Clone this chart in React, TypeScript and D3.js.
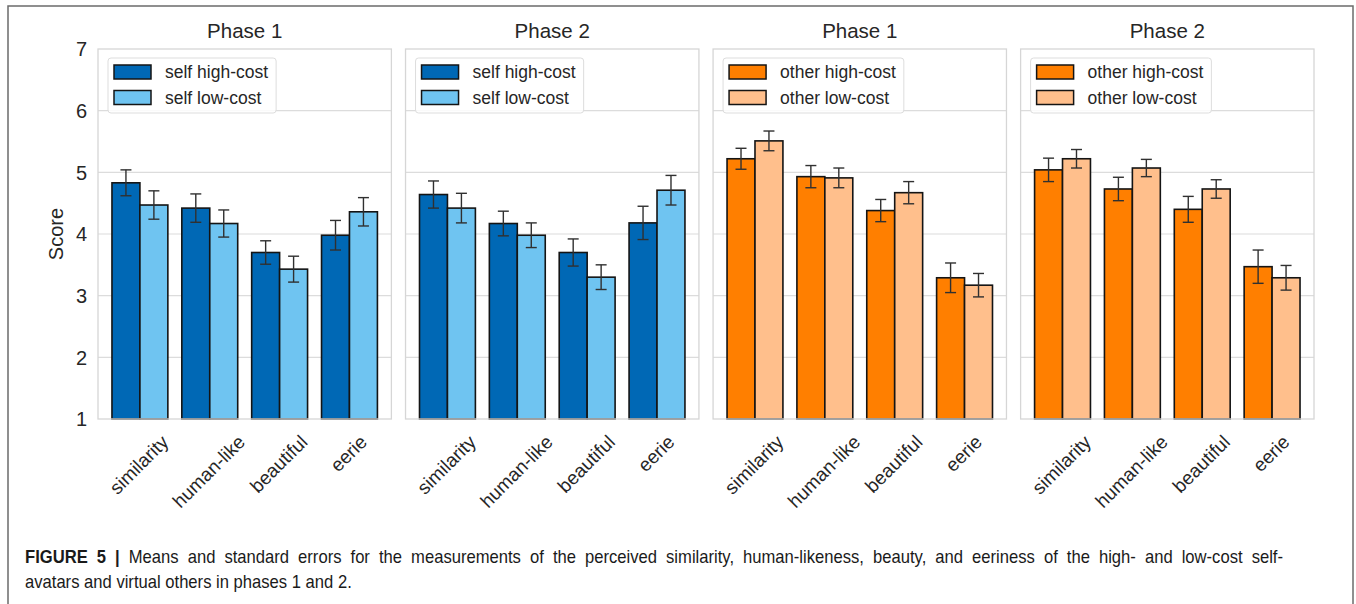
import React, { useEffect, useRef } from "react";
import * as d3 from "d3";

const categories = ["similarity", "human-like", "beautiful", "eerie"];
const panelTitles = ["Phase 1", "Phase 2", "Phase 1", "Phase 2"];
const yTicks = [1, 2, 3, 4, 5, 6, 7];

// means and standard errors per panel
const selfP1High = [4.83, 4.42, 3.7, 3.98];
const selfP1HighSe = [0.21, 0.23, 0.19, 0.24];
const selfP1Low = [4.47, 4.17, 3.43, 4.36];
const selfP1LowSe = [0.23, 0.22, 0.21, 0.23];
const selfP2High = [4.64, 4.17, 3.7, 4.18];
const selfP2HighSe = [0.22, 0.2, 0.22, 0.27];
const selfP2Low = [4.42, 3.98, 3.3, 4.71];
const selfP2LowSe = [0.24, 0.2, 0.2, 0.24];
const otherP1High = [5.22, 4.93, 4.38, 3.29];
const otherP1HighSe = [0.17, 0.18, 0.18, 0.24];
const otherP1Low = [5.51, 4.91, 4.67, 3.17];
const otherP1LowSe = [0.16, 0.16, 0.18, 0.19];
const otherP2High = [5.04, 4.73, 4.4, 3.47];
const otherP2HighSe = [0.19, 0.19, 0.21, 0.27];
const otherP2Low = [5.22, 5.07, 4.73, 3.29];
const otherP2LowSe = [0.15, 0.14, 0.15, 0.2];

const selfLabels = ["self high-cost", "self low-cost"];
const otherLabels = ["other high-cost", "other low-cost"];
const selfColors = ["#0068b5", "#6fc4f1"];
const otherColors = ["#ff7f00", "#ffbf8c"];

const captionBold = "FIGURE 5 |";
const captionLine1 =
  " Means and standard errors for the measurements of the perceived similarity, human-likeness, beauty, and eeriness of the high- and low-cost self-";
const captionLine2 = "avatars and virtual others in phases 1 and 2.";

const FONT = "'Liberation Sans', Arial, Helvetica, sans-serif";
const TXT = "#262626";

export default function App() {
  const ref = useRef<SVGSVGElement>(null);

  useEffect(() => {
    if (!ref.current) return;
    const svg = d3.select(ref.current);
    svg.selectAll("*").remove();

    const panels = [
      { means: [selfP1High, selfP1Low], ses: [selfP1HighSe, selfP1LowSe], labels: selfLabels, colors: selfColors },
      { means: [selfP2High, selfP2Low], ses: [selfP2HighSe, selfP2LowSe], labels: selfLabels, colors: selfColors },
      { means: [otherP1High, otherP1Low], ses: [otherP1HighSe, otherP1LowSe], labels: otherLabels, colors: otherColors },
      { means: [otherP2High, otherP2Low], ses: [otherP2HighSe, otherP2LowSe], labels: otherLabels, colors: otherColors },
    ];

    // outer figure frame
    svg
      .append("rect")
      .attr("x", 8)
      .attr("y", 6)
      .attr("width", 1345)
      .attr("height", 640)
      .attr("fill", "white")
      .attr("stroke", "#6b6b6b")
      .attr("stroke-width", 1.5);

    const top = 49;
    const bottom = 419;
    const y = d3.scaleLinear().domain([1, 7]).range([bottom, top]);
    const px = d3
      .scaleBand<number>()
      .domain(d3.range(4))
      .range([98, 1314])
      .paddingInner(0.046)
      .paddingOuter(0);
    const bw = px.bandwidth();
    const x = d3.scaleLinear().domain([-0.6, 3.6]).range([0, bw]);
    const barW = x(0.4) - x(0);

    panels.forEach((p, pi) => {
      const g = svg.append("g").attr("transform", `translate(${px(pi)},0)`);

      // gridlines
      g.append("g")
        .selectAll("line")
        .data(yTicks.slice(1, -1))
        .enter()
        .append("line")
        .attr("x1", 0)
        .attr("x2", bw)
        .attr("y1", (d) => y(d))
        .attr("y2", (d) => y(d))
        .attr("stroke", "#dcdcdc")
        .attr("stroke-width", 1.1);

      // bars
      p.means.forEach((vals, si) => {
        const off = si === 0 ? -0.4 : 0;
        g.append("g")
          .selectAll("rect")
          .data(vals)
          .enter()
          .append("rect")
          .attr("x", (d, i) => x(i + off))
          .attr("y", (d) => y(d))
          .attr("width", barW)
          .attr("height", (d) => y(1) - y(d))
          .attr("fill", p.colors[si])
          .attr("stroke", "#141414")
          .attr("stroke-width", 1.6);
      });

      // error bars
      p.means.forEach((vals, si) => {
        const off = si === 0 ? -0.2 : 0.2;
        const eg = g
          .append("g")
          .selectAll("g")
          .data(vals.map((v, i) => ({ v, i, se: p.ses[si][i] })))
          .enter()
          .append("g")
          .attr("stroke", "#303030")
          .attr("stroke-width", 1.4);
        eg.append("line")
          .attr("x1", (d) => x(d.i + off))
          .attr("x2", (d) => x(d.i + off))
          .attr("y1", (d) => y(d.v + d.se))
          .attr("y2", (d) => y(d.v - d.se));
        [1, -1].forEach((s) => {
          eg.append("line")
            .attr("x1", (d) => x(d.i + off) - 5.5)
            .attr("x2", (d) => x(d.i + off) + 5.5)
            .attr("y1", (d) => y(d.v + s * d.se))
            .attr("y2", (d) => y(d.v + s * d.se));
        });
      });

      // panel frame
      g.append("rect")
        .attr("x", 0)
        .attr("y", top)
        .attr("width", bw)
        .attr("height", bottom - top)
        .attr("fill", "none")
        .attr("stroke", "#d6d6d6")
        .attr("stroke-width", 1.3);

      // title
      g.append("text")
        .attr("x", bw / 2)
        .attr("y", 38)
        .attr("text-anchor", "middle")
        .attr("font-family", FONT)
        .attr("font-size", 20.5)
        .attr("fill", TXT)
        .text(panelTitles[pi]);

      // x tick labels, rotated 45 and centred under the tick
      const fs = 19;
      const a = 0.76 * fs;
      const dsc = 0.21 * fs;
      categories.forEach((c, i) => {
        const t = g
          .append("text")
          .attr("font-family", FONT)
          .attr("font-size", fs)
          .attr("fill", TXT)
          .attr("text-anchor", "end")
          .text(c);
        const L = (t.node() as SVGTextElement).getComputedTextLength();
        const ax = x(i) + (L + a - dsc) / (2 * Math.SQRT2);
        const ay = 433 + a / Math.SQRT2;
        t.attr("transform", `translate(${ax},${ay}) rotate(-45)`);
      });

      // legend
      const lg = g.append("g").attr("transform", `translate(10,58)`);
      const box = lg
        .append("rect")
        .attr("x", 0)
        .attr("y", 0)
        .attr("height", 55)
        .attr("rx", 3)
        .attr("fill", "white")
        .attr("fill-opacity", 0.85)
        .attr("stroke", "#dddddd")
        .attr("stroke-width", 1);
      let maxL = 0;
      p.labels.forEach((lab, li) => {
        lg.append("rect")
          .attr("x", 6)
          .attr("y", 7 + li * 25.5)
          .attr("width", 37)
          .attr("height", 14)
          .attr("fill", p.colors[li])
          .attr("stroke", "#141414")
          .attr("stroke-width", 1.5);
        const t = lg
          .append("text")
          .attr("x", 57)
          .attr("y", 14 + li * 25.5)
          .attr("dy", "0.35em")
          .attr("font-family", FONT)
          .attr("font-size", 17.5)
          .attr("fill", TXT)
          .text(lab);
        maxL = Math.max(maxL, (t.node() as SVGTextElement).getComputedTextLength());
      });
      box.attr("width", 57 + maxL + 8);
    });

    // y axis tick labels and title
    svg
      .append("g")
      .selectAll("text")
      .data(yTicks)
      .enter()
      .append("text")
      .attr("x", 87)
      .attr("y", (d) => y(d))
      .attr("dy", "0.36em")
      .attr("text-anchor", "end")
      .attr("font-family", FONT)
      .attr("font-size", 20)
      .attr("fill", TXT)
      .text((d) => d);

    svg
      .append("text")
      .attr("transform", `translate(63,${y(4)}) rotate(-90)`)
      .attr("text-anchor", "middle")
      .attr("font-family", FONT)
      .attr("font-size", 20)
      .attr("fill", TXT)
      .text("Score");

    // caption: slightly narrow face, first line justified to the right margin
    const capFs = 17.5;
    const sx = 0.95;
    svg
      .append("g")
      .attr("transform", `translate(25,588) scale(${sx},1)`)
      .append("text")
      .attr("font-family", FONT)
      .attr("font-size", capFs)
      .attr("fill", "#1a1a1a")
      .text(captionLine2);

    const cap = svg
      .append("g")
      .attr("transform", `translate(25,563) scale(${sx},1)`)
      .append("text")
      .attr("font-family", FONT)
      .attr("font-size", capFs)
      .attr("fill", "#1a1a1a");
    cap.append("tspan").attr("font-weight", "bold").text(captionBold);
    cap.append("tspan").text(captionLine1);
    const w1 = (cap.node() as SVGTextElement).getComputedTextLength();
    const nSpaces = (captionBold + captionLine1).split(" ").length - 1;
    cap.attr("word-spacing", Math.max(0, (1258 / sx - w1) / nSpaces));
  }, []);

  return (
    <svg
      ref={ref}
      width={1356}
      height={604}
      style={{ position: "absolute", left: 0, top: 0, background: "white" }}
    />
  );
}
